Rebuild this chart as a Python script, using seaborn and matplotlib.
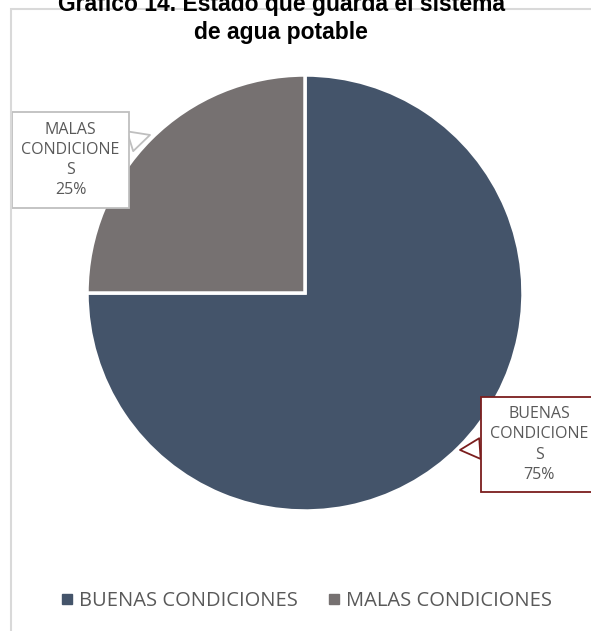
import matplotlib
matplotlib.use("Agg")
import matplotlib.pyplot as plt
import seaborn as sns
from matplotlib.patches import Rectangle

# ==========================================
# DATA
# ==========================================
categories = ["BUENAS CONDICIONES", "MALAS CONDICIONES"]
values = [75, 25]
box_labels = ["BUENAS\nCONDICIONE\nS\n75%", "MALAS\nCONDICIONE\nS\n25%"]
colors = ["#44546A", "#767171"]
box_edges = ["#7B1E1E", "#BFBFBF"]
title = "Gráfico 14. Estado que guarda el sistema\nde agua potable"

sns.set_theme(style="white")
plt.rcParams['font.family'] = ['Open Sans', 'DejaVu Sans']

fig = plt.figure(figsize=(5.91, 6.31), dpi=100)

# chart frame (light grey border like the Excel chart area)
fig.patches.append(Rectangle((11 / 591, -0.1), 1.2, 1.1 - 9 / 631,
                             transform=fig.transFigure, fill=False,
                             ec="#D9D9D9", lw=1.5, zorder=0))

ax = fig.add_axes([87 / 591, 120 / 631, 436 / 591, 436 / 631])
wedges, _ = ax.pie(values, colors=colors, startangle=90, counterclock=False,
                   radius=1, wedgeprops=dict(edgecolor="white", linewidth=2.5))
ax.set_xlim(-1, 1)
ax.set_ylim(-1, 1)
ax.set_aspect("equal")
ax.axis("off")

# callout labels
ann_pos = [((1.075, -0.695), (0.711, -0.72)), ((-1.075, 0.61), (-0.711, 0.725))]
for lab, ec, (txt_xy, tip) in zip(box_labels, box_edges, ann_pos):
    ax.annotate(lab, xy=tip, xytext=txt_xy, ha="center", va="center",
                fontsize=11.5, color="#595959", linespacing=1.35,
                annotation_clip=False,
                bbox=dict(boxstyle="square,pad=0.6", fc="white", ec=ec, lw=1.3),
                arrowprops=dict(arrowstyle="wedge,tail_width=1.3", fc="white",
                                ec=ec, lw=1.3, shrinkA=0, shrinkB=0))

fig.text(0.476, 1 - 44 / 631, title, ha="center", va="bottom",
         fontsize=16.5, fontweight="bold", family=["Liberation Sans", "DejaVu Sans"],
         color="black", linespacing=1.3)

handles = [plt.Line2D([], [], marker="s", ls="", markersize=7, color=c) for c in colors]
fig.legend(handles, categories, loc="center", bbox_to_anchor=(0.515, 1 - 601 / 631),
           ncol=2, frameon=False, fontsize=14.5, labelcolor="#595959",
           handletextpad=0.1, columnspacing=1.3, handlelength=1.0)

fig.savefig("out.png", dpi=100)
